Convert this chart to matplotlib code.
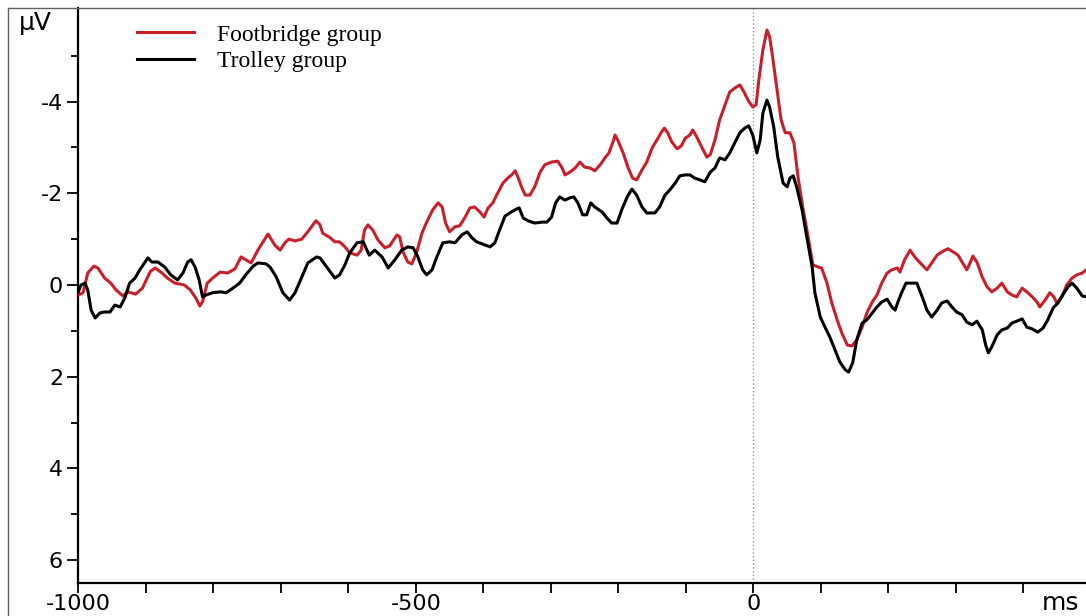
import matplotlib
matplotlib.use("Agg")
import matplotlib.pyplot as plt
from matplotlib.lines import Line2D
from matplotlib.ticker import FixedLocator, MultipleLocator

plt.rcParams['axes.unicode_minus'] = False

# grand-average ERP, time in ms, amplitude in µV
foot_t = [-1000, -993, -986, -977, -971, -961, -952, -944, -934, -927, -915, -905, -898, -893,
          -886, -876, -868, -857, -843, -834, -826, -820, -816, -809, -801, -790, -779, -768,
          -759, -752, -744, -734, -719, -709, -701, -694, -688, -679, -669, -660, -648, -642,
          -638, -627, -620, -613, -605, -598, -587, -581, -576, -571, -564, -556, -546, -539,
          -528, -524, -519, -512, -506, -499, -491, -484, -475, -467, -461, -456, -450, -442,
          -435, -427, -420, -413, -405, -399, -393, -386, -379, -371, -364, -358, -353, -349,
          -343, -338, -331, -324, -316, -309, -299, -290, -284, -279, -272, -264, -257, -250,
          -242, -235, -227, -220, -214, -208, -205, -201, -193, -186, -179, -173, -165, -158,
          -150, -143, -136, -132, -127, -121, -113, -107, -101, -94, -90, -84, -76, -69, -64,
          -57, -50, -42, -35, -27, -20, -14, -8, -1, 4, 8, 14, 20, 24, 29, 35, 41, 47, 54, 60,
          66, 73, 81, 88, 96, 101, 109, 116, 124, 131, 139, 146, 153, 161, 168, 176, 183, 190,
          198, 205, 213, 217, 224, 232, 239, 247, 257, 264, 272, 279, 288, 296, 303, 310, 316,
          321, 325, 331, 339, 346, 353, 361, 368, 376, 383, 390, 398, 405, 413, 420, 424, 432,
          439, 445, 450, 457, 464, 472, 479, 487, 493]
foot_uv = [0.22, 0.17, -0.26, -0.41, -0.37, -0.15, -0.04, 0.11, 0.24, 0.15, 0.20, 0.07, -0.15, -0.30,
           -0.37, -0.26, -0.15, -0.04, 0.00, 0.11, 0.28, 0.46, 0.37, -0.04, -0.15, -0.28, -0.26, -0.35,
           -0.61, -0.55, -0.48, -0.76, -1.11, -0.87, -0.76, -0.92, -1.00, -0.96, -1.00, -1.16, -1.40, -1.31,
           -1.13, -1.03, -0.94, -0.94, -0.83, -0.70, -0.65, -0.76, -1.20, -1.31, -1.20, -0.98, -0.81, -0.85,
           -1.09, -1.05, -0.72, -0.50, -0.46, -0.70, -1.13, -1.37, -1.64, -1.79, -1.70, -1.35, -1.16, -1.27,
           -1.29, -1.48, -1.68, -1.70, -1.59, -1.48, -1.68, -1.79, -2.00, -2.22, -2.33, -2.40, -2.49, -2.36,
           -2.12, -1.96, -1.96, -2.14, -2.46, -2.62, -2.68, -2.70, -2.57, -2.40, -2.46, -2.55, -2.68, -2.57,
           -2.55, -2.49, -2.62, -2.77, -2.88, -3.12, -3.27, -3.16, -2.88, -2.57, -2.33, -2.29, -2.51, -2.68,
           -2.99, -3.16, -3.34, -3.42, -3.32, -3.12, -2.97, -3.03, -3.20, -3.27, -3.38, -3.23, -2.99, -2.79, -2.84,
           -3.16, -3.60, -3.93, -4.21, -4.30, -4.36, -4.21, -4.03, -3.88, -3.93, -4.47, -5.13, -5.56, -5.41,
           -4.91, -4.25, -3.60, -3.32, -3.32, -3.10,
           -2.36, -1.70, -1.05, -0.44, -0.39, -0.37, -0.04, 0.39, 0.76, 1.05, 1.31, 1.33, 1.20, 0.92, 0.61,
           0.37, 0.22, -0.04, -0.26, -0.33, -0.37, -0.28, -0.55, -0.76, -0.61, -0.48, -0.33, -0.48, -0.65,
           -0.72, -0.79, -0.72, -0.65, -0.48, -0.33, -0.48, -0.63, -0.50, -0.17, 0.04, 0.15, 0.07, -0.04,
           0.15, 0.22, 0.26, 0.07, 0.15, 0.26, 0.37, 0.48, 0.33, 0.17, 0.26, 0.41, 0.26, 0.00, -0.15,
           -0.22, -0.26, -0.33]

trolley_t = [-1000, -996, -990, -986, -981, -975, -968, -961, -953, -946, -938, -931, -924, -916,
             -909, -901, -897, -891, -882, -872, -863, -853, -845, -838, -833, -827, -821, -816,
             -811, -801, -789, -781, -771, -761, -752, -741, -734, -722, -716, -707, -697, -687,
             -679, -669, -660, -647, -642, -632, -620, -613, -605, -598, -587, -578, -569, -561,
             -550, -541, -531, -521, -512, -504, -497, -490, -484, -476, -469, -460, -450, -442,
             -432, -424, -417, -410, -401, -390, -383, -376, -368, -361, -353, -347, -341, -334,
             -324, -313, -306, -299, -293, -287, -279, -272, -266, -260, -253, -247, -241, -235,
             -224, -217, -210, -202, -195, -187, -180, -173, -165, -158, -146, -139, -131, -124,
             -116, -109, -101, -94, -87, -79, -72, -64, -57, -50, -42, -35, -27, -20, -13, -7, -1,
             5, 10, 14, 20, 24, 30, 36, 44, 50, 54, 59, 64, 72, 79, 87, 91, 99, 106, 113, 121, 128,
             136, 141, 147, 153, 161, 168, 176, 183, 190, 198, 205, 210, 214, 220, 226, 235, 242,
             250, 257, 264, 272, 279, 287, 294, 301, 309, 316, 324, 331, 339, 344, 348, 353, 361,
             368, 376, 383, 390, 398, 405, 413, 421, 429, 436, 444, 451, 458, 466, 472, 479, 487, 493]
trolley_uv = [0.15, 0.00, -0.04, 0.11, 0.55, 0.72, 0.61, 0.59, 0.59, 0.44, 0.48, 0.28, -0.04, -0.15,
              -0.33, -0.50, -0.59, -0.50, -0.50, -0.39, -0.22, -0.11, -0.26, -0.50, -0.55, -0.39, -0.11, 0.26,
              0.22, 0.17, 0.15, 0.17, 0.07, -0.04, -0.22, -0.41, -0.48, -0.46, -0.39, -0.18, 0.17, 0.33,
              0.17, -0.17, -0.48, -0.61, -0.59, -0.39, -0.15, -0.22, -0.44, -0.70, -0.92, -0.94, -0.65, -0.76,
              -0.61, -0.37, -0.55, -0.76, -0.83, -0.81, -0.61, -0.33, -0.22, -0.33, -0.61, -0.92, -0.94, -0.92,
              -1.09, -1.16, -1.03, -0.94, -0.89, -0.83, -0.92, -1.20, -1.50, -1.57, -1.64, -1.68, -1.46, -1.40,
              -1.35, -1.37, -1.37, -1.48, -1.79, -1.92, -1.85, -1.90, -1.92, -1.79, -1.53, -1.53, -1.79, -1.70,
              -1.59, -1.46, -1.35, -1.35, -1.64, -1.92, -2.09, -1.96, -1.70, -1.57, -1.57, -1.70, -1.96, -2.07,
              -2.22, -2.38, -2.40, -2.40, -2.33, -2.29, -2.25, -2.46, -2.55, -2.77, -2.73, -2.88, -3.12, -3.32,
              -3.42, -3.47, -3.27,
              -2.88, -3.16, -3.75, -4.03, -3.88, -3.45, -2.79, -2.22, -2.14, -2.33, -2.38, -2.14, -1.64, -1.05,
              -0.39, 0.17, 0.70, 0.92, 1.13, 1.42, 1.68,
              1.85, 1.90, 1.70, 1.20, 0.83, 0.76, 0.61, 0.48, 0.37, 0.31, 0.48, 0.55, 0.37, 0.15, -0.04, -0.04,
              -0.04, 0.26, 0.55, 0.70, 0.55, 0.39, 0.35, 0.48, 0.59, 0.65, 0.81, 0.87, 0.79, 0.98, 1.31, 1.48,
              1.35, 1.09, 0.98, 0.94, 0.83, 0.79, 0.74, 0.92, 0.96, 1.03, 0.94, 0.76, 0.50, 0.39, 0.22, 0.04,
              -0.04, 0.07, 0.24, 0.26]

x_major = [-1000, -500, 0]
y_major = [-4, -2, 0, 2, 4, 6]
y_minor = [-5, -3, -1, 1, 3, 5]

RED = '#c8202a'
W, H = 1086, 616

fig = plt.figure(figsize=(W / 100, H / 100), dpi=100)
ax = fig.add_axes([78.3 / W, 33 / H, 1 - 78.3 / W, 575 / H])

ax.axvline(0, color='#808080', lw=0.9, ls=(0, (1, 2)), zorder=1)
ax.plot(foot_t, foot_uv, color=RED, lw=2.2, label='Footbridge group', zorder=3,
        solid_joinstyle='round')
ax.plot(trolley_t, trolley_uv, color='black', lw=2.2, label='Trolley group', zorder=4,
        solid_joinstyle='round')

ax.set_xlim(-1000, 492.6)
ax.set_ylim(6.5, -6.04)   # negative up

ax.xaxis.set_major_locator(FixedLocator(x_major))
ax.xaxis.set_minor_locator(MultipleLocator(100))
ax.yaxis.set_major_locator(FixedLocator(y_major))
ax.yaxis.set_minor_locator(FixedLocator(y_minor))
ax.tick_params(axis='x', which='both', direction='out', length=7, width=1.3, pad=1,
               labelsize=16)
ax.tick_params(axis='y', which='major', direction='out', length=8, width=1.3, pad=3,
               labelsize=16)
ax.tick_params(axis='y', which='minor', direction='out', length=5, width=1.3)
for lab in ax.get_xticklabels() + ax.get_yticklabels():
    lab.set_family('DejaVu Sans')

for side in ['top', 'right']:
    ax.spines[side].set_visible(False)
for side in ['left', 'bottom']:
    ax.spines[side].set_linewidth(1.6)

fig.text(1061 / W, 1 - 603 / H, 'ms', ha='center', va='center',
         fontsize=18, family='DejaVu Sans')
fig.text(35 / W, 1 - 23 / H, 'µV', ha='center', va='center',
         fontsize=18, family='DejaVu Sans')

leg = ax.legend(loc='upper left', bbox_to_anchor=(137 / W, 1 - 24 / H),
                bbox_transform=fig.transFigure, frameon=False,
                prop={'family': 'Liberation Serif', 'size': 17},
                handlelength=2.4, handletextpad=1.0, labelspacing=0.22,
                borderpad=0, borderaxespad=0)

# thin outer frame of the panel
fig.add_artist(Line2D([8 / W, 8 / W], [0, 1 - 8 / H], transform=fig.transFigure,
                      color='#606060', lw=1))
fig.add_artist(Line2D([8 / W, 1], [1 - 8 / H, 1 - 8 / H], transform=fig.transFigure,
                      color='#606060', lw=1))

fig.savefig('out.png', dpi=100)
